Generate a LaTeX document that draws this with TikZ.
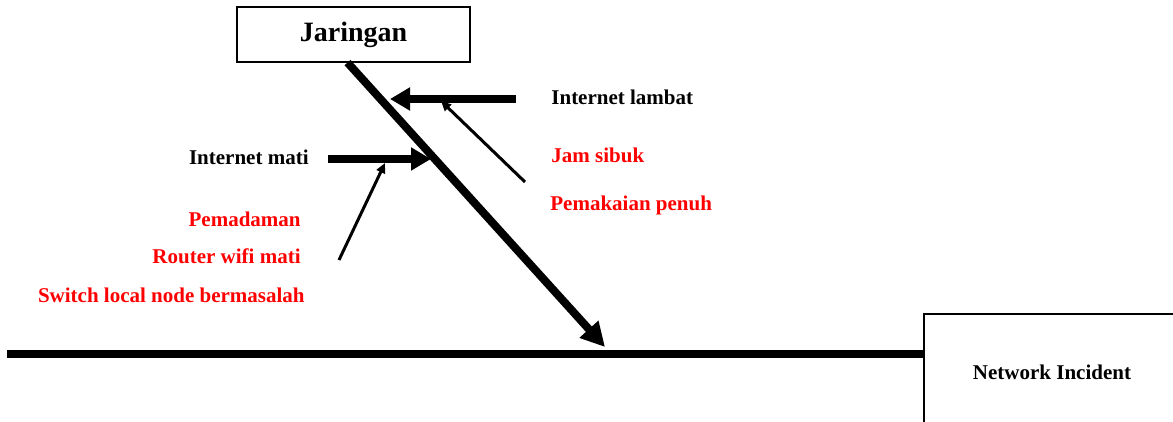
\documentclass[tikz,border=0pt]{standalone}
\usepackage{fontspec}
\setmainfont{Liberation Serif}
\usetikzlibrary{arrows.meta}

\begin{document}
\begin{tikzpicture}[
    x=0.5pt, y=-0.5pt,
    font=\bfseries\fontsize{10.5}{12}\selectfont,
    box/.style={draw=black, line width=0.6pt, inner sep=0pt},
    bone/.style={line width=4pt, draw=black},
    spine/.style={bone, -{Triangle[length=12pt,width=12pt]}},
    cause/.style={line width=4pt, draw=black, -{Triangle[length=10pt,width=11pt]}},
    subcause/.style={line width=1.5pt, draw=black, -{Triangle[length=5pt,width=4.5pt]}},
    causetext/.style={inner sep=0pt, anchor=base west},
    reason/.style={text=red, inner sep=0pt, anchor=base east},
    reasonr/.style={text=red, inner sep=0pt, anchor=base west}
]
\useasboundingbox (0,0) rectangle (1173,422);
\clip (0,0) rectangle (1173,422);

% head and effect boxes
\node[box, minimum width=116.5pt, minimum height=27.5pt, font=\bfseries\fontsize{14}{16}\selectfont] (jaringan) at (353.5,34.5) {Jaringan};
\node[box, minimum width=128pt, minimum height=58pt] (incident) at (1052,372) {Network Incident};

% backbone
\coordinate (tail) at (7,354);
\coordinate (head) at (605,347);
\draw[bone] (tail) -- (tail -| incident.west);
\draw[spine] ([xshift=-3pt]jaringan.south) -- (head);

% cause: internet lambat
\coordinate (lambat-from) at (516,99);
\coordinate (lambat-to) at (390,99);
\coordinate (sibuk-from) at (525,182);
\coordinate (sibuk-to) at (441,101);
\draw[cause] (lambat-from) -- (lambat-to);
\draw[subcause] (sibuk-from) -- (sibuk-to);
\node[causetext] (lambat) at (551,105) {Internet lambat};
\node[reasonr] (sibuk) at (551,163) {Jam sibuk};
\node[reasonr] (penuh) at (550,211) {Pemakaian penuh};

% cause: internet mati
\coordinate (mati-from) at (328,159);
\coordinate (mati-to) at (431,159);
\coordinate (padam-from) at (339,260);
\coordinate (padam-to) at (385,163);
\draw[cause] (mati-from) -- (mati-to);
\draw[subcause] (padam-from) -- (padam-to);
\node[causetext, anchor=base east] (mati) at (309,165) {Internet mati};
\node[reason] (padam) at (301,227) {Pemadaman};
\node[reason] (router) at (301,264) {Router wifi mati};
\node[reason] (switch) at (305,303) {Switch local node bermasalah};
\end{tikzpicture}
\end{document}
